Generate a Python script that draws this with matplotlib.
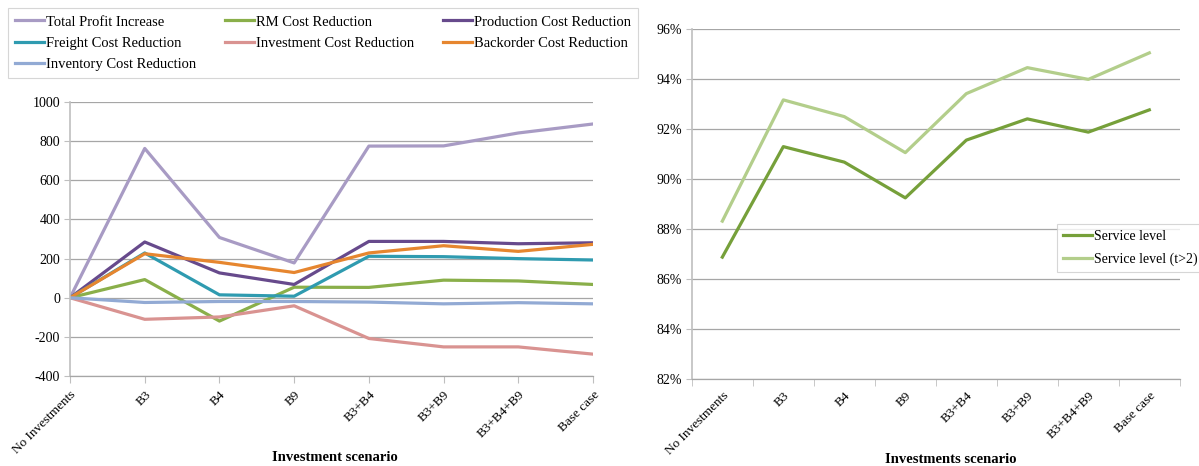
import matplotlib
matplotlib.use("Agg")
import matplotlib.pyplot as plt
from matplotlib.ticker import FuncFormatter, FixedLocator

plt.rcParams['font.family'] = ['Liberation Serif', 'DejaVu Serif']
plt.rcParams['axes.unicode_minus'] = False

categories = ["No Investments", "B3", "B4", "B9", "B3+B4", "B3+B9", "B3+B4+B9", "Base case"]

total_profit = [0, 763, 308, 178, 775, 776, 842, 888]
rm_cost = [0, 93, -119, 54, 53, 90, 86, 68]
production_cost = [0, 285, 127, 68, 288, 288, 276, 281]
freight_cost = [0, 229, 15, 8, 212, 210, 200, 193]
investment_cost = [0, -110, -98, -41, -208, -251, -251, -288]
backorder_cost = [0, 225, 181, 129, 229, 266, 237, 273]
inventory_cost = [0, -24, -19, -19, -22, -31, -25, -31]

service_level = [86.87, 91.29, 90.67, 89.24, 91.55, 92.40, 91.87, 92.76]
service_level_t2 = [88.31, 93.16, 92.49, 91.05, 93.41, 94.45, 93.98, 95.04]

fig = plt.figure(figsize=(11.99, 4.66), dpi=100)
fig.patch.set_facecolor('white')

grid_c = '#A6A6A6'
spine_c = '#BFBFBF'

# Left chart
ax1 = fig.add_axes([0.0584, 0.193, 0.4362, 0.588])
series = [
    ("Total Profit Increase", total_profit, '#A89BC4'),
    ("RM Cost Reduction", rm_cost, '#8AAF4A'),
    ("Production Cost Reduction", production_cost, '#674A8C'),
    ("Freight Cost Reduction", freight_cost, '#2F9BB0'),
    ("Investment Cost Reduction", investment_cost, '#D99391'),
    ("Backorder Cost Reduction", backorder_cost, '#E6862F'),
    ("Inventory Cost Reduction", inventory_cost, '#92AAD4'),
]
x = list(range(len(categories)))
handles = {}
for name, vals, col in series:
    h, = ax1.plot(x, vals, color=col, lw=2.3, label=name, solid_joinstyle='round')
    handles[name] = h
ax1.set_xlim(0, len(categories) - 1)
ax1.set_ylim(-400, 1000)
ax1.set_yticks(range(-400, 1001, 200))
ax1.set_xticks(x)
ax1.set_xticklabels(categories, rotation=45, ha='right', rotation_mode='anchor', fontsize=9.5)
ax1.tick_params(axis='y', labelsize=10, length=4, color=spine_c, pad=3)
ax1.tick_params(axis='x', length=5, color=spine_c, pad=4)
ax1.yaxis.grid(True, color=grid_c, lw=0.9)
ax1.set_axisbelow(True)
for s in ['top', 'right']:
    ax1.spines[s].set_visible(False)
ax1.spines['left'].set_color(spine_c)
ax1.spines['left'].set_linewidth(1.2)
ax1.spines['bottom'].set_color(grid_c)
ax1.spines['bottom'].set_linewidth(0.9)
ax1.set_xlabel("Investment scenario", fontsize=10.5, fontweight='bold', va='center')
ax1.xaxis.set_label_coords(0.506, -0.299)

order = ["Total Profit Increase", "Freight Cost Reduction", "Inventory Cost Reduction",
         "RM Cost Reduction", "Investment Cost Reduction",
         "Production Cost Reduction", "Backorder Cost Reduction"]
leg1 = fig.legend(handles=[handles[n] for n in order], labels=order, loc='upper left',
                  bbox_to_anchor=(8/1199, 1 - 8/466),
                  ncol=3, fontsize=10.5, frameon=True, fancybox=False, edgecolor='#CCCCCC',
                  handlelength=2.0, handletextpad=0.1, columnspacing=2.0, labelspacing=0.55,
                  borderpad=0.5, borderaxespad=0)
leg1.get_frame().set_linewidth(0.8)

# Right chart
ax2 = fig.add_axes([0.577, 0.187, 0.407, 0.751])
h1, = ax2.plot(x, service_level, color='#76A03A', lw=2.3, label='Service level')
h2, = ax2.plot(x, service_level_t2, color='#B3CE8B', lw=2.3, label='Service level (t>2)')
ax2.set_xlim(-0.5, len(categories) - 0.5)
ax2.set_ylim(82, 96)
ax2.set_yticks(range(82, 97, 2))
ax2.yaxis.set_major_formatter(FuncFormatter(lambda v, p: f"{v:.0f}%"))
ax2.set_xticks(x)
ax2.set_xticklabels(categories, rotation=45, ha='right', rotation_mode='anchor', fontsize=9.5)
ax2.xaxis.set_minor_locator(FixedLocator([i - 0.5 for i in range(len(categories) + 1)]))
ax2.tick_params(axis='x', which='major', length=0, pad=8)
ax2.tick_params(axis='x', which='minor', length=5, color=spine_c)
ax2.tick_params(axis='y', labelsize=10, length=4, color=spine_c, pad=3)
ax2.yaxis.grid(True, color=grid_c, lw=0.9)
ax2.set_axisbelow(True)
for s in ['top', 'right']:
    ax2.spines[s].set_visible(False)
ax2.spines['left'].set_color(spine_c)
ax2.spines['left'].set_linewidth(1.2)
ax2.spines['bottom'].set_color(grid_c)
ax2.spines['bottom'].set_linewidth(0.9)
ax2.set_xlabel("Investments scenario", fontsize=10.5, fontweight='bold', va='center')
ax2.xaxis.set_label_coords(0.53, -0.231)

leg2 = fig.legend(handles=[h1, h2], loc='upper left', bbox_to_anchor=(1057/1199, 1 - 224/466),
                  fontsize=10, frameon=True, fancybox=False, edgecolor='#CCCCCC',
                  handlelength=2.1, handletextpad=0.1, labelspacing=0.65, borderpad=0.45,
                  borderaxespad=0)
leg2.get_frame().set_linewidth(0.8)

fig.savefig("out.png", dpi=100)
